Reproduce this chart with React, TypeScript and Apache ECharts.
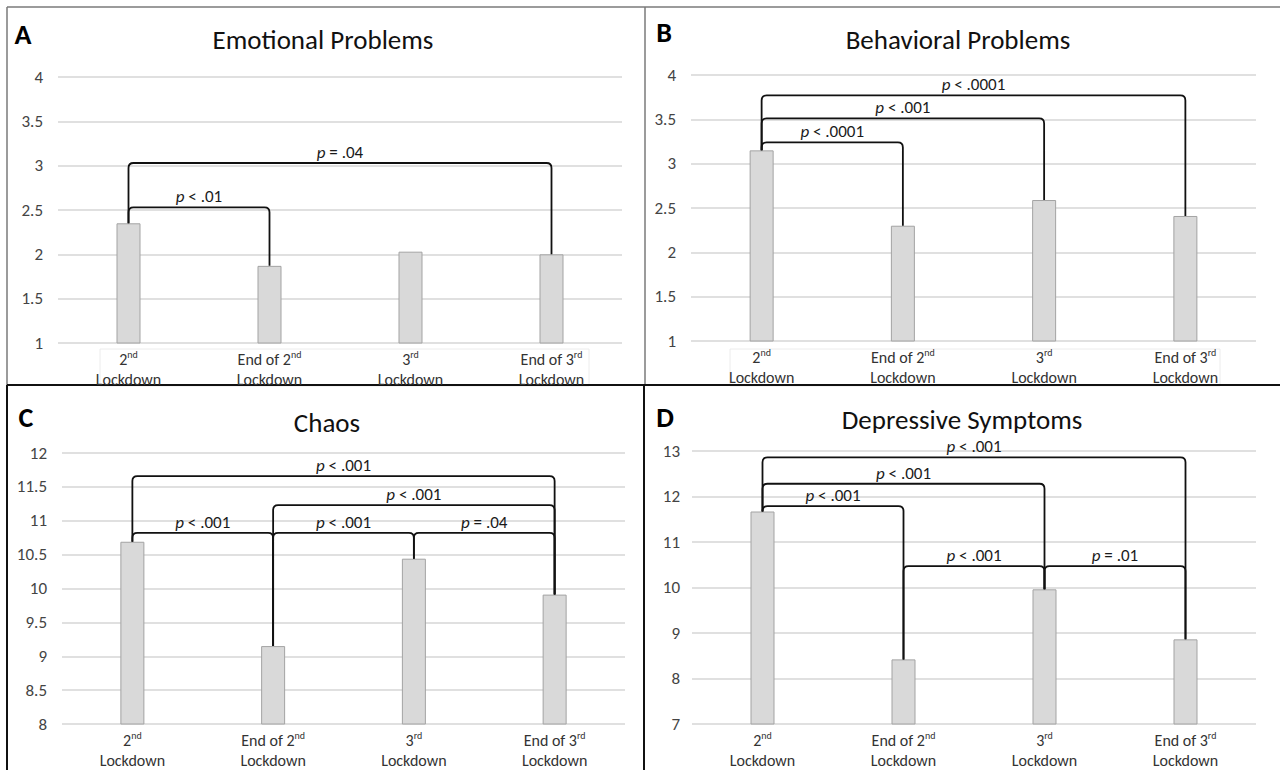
import React, { useEffect, useRef } from 'react';
import * as echarts from 'echarts';

const FONT = 'Carlito, Lato, "Noto Sans", sans-serif';

const categories = ['2nd Lockdown', 'End of 2nd Lockdown', '3rd Lockdown', 'End of 3rd Lockdown'];

const panelTitles = ['Emotional Problems', 'Behavioral Problems', 'Chaos', 'Depressive Symptoms'];
const panelLetters = ['A', 'B', 'C', 'D'];

const emotionalValues = [2.35, 1.87, 2.03, 2.0];
const behavioralValues = [3.15, 2.3, 2.59, 2.41];
const chaosValues = [10.69, 9.15, 10.44, 9.91];
const depressiveValues = [11.67, 8.42, 9.96, 8.86];

// y-axis ranges: [min, max, interval]
const emotionalAxis = [1, 4, 0.5];
const behavioralAxis = [1, 4, 0.5];
const chaosAxis = [8, 12, 0.5];
const depressiveAxis = [7, 13, 1];

// brackets: [fromIndex, toIndex, level, p text]
const emotionalBrackets: [number, number, number, string][] = [
  [0, 1, 2.53, '< .01'],
  [0, 3, 3.03, '= .04'],
];
const behavioralBrackets: [number, number, number, string][] = [
  [0, 1, 3.24, '< .0001'],
  [0, 2, 3.51, '< .001'],
  [0, 3, 3.77, '< .0001'],
];
const chaosBrackets: [number, number, number, string][] = [
  [0, 1, 10.82, '< .001'],
  [1, 2, 10.82, '< .001'],
  [2, 3, 10.82, '= .04'],
  [1, 3, 11.23, '< .001'],
  [0, 3, 11.66, '< .001'],
];
const depressiveBrackets: [number, number, number, string][] = [
  [0, 1, 11.79, '< .001'],
  [0, 2, 12.28, '< .001'],
  [0, 3, 12.86, '< .001'],
  [1, 2, 10.47, '< .001'],
  [2, 3, 10.47, '= .01'],
];

const panelValues = [emotionalValues, behavioralValues, chaosValues, depressiveValues];
const panelAxes = [emotionalAxis, behavioralAxis, chaosAxis, depressiveAxis];
const panelBrackets = [emotionalBrackets, behavioralBrackets, chaosBrackets, depressiveBrackets];

// layout (pixels)
const gridRects = [
  { left: 58, top: 77, width: 564, height: 266 },
  { left: 691, top: 75, width: 565, height: 266 },
  { left: 62, top: 453, width: 563, height: 280 },
  { left: 692, top: 451, width: 564, height: 280 },
];
const titlePos = [
  [323, 39],
  [958, 39],
  [327, 422],
  [962, 419],
];
const letterPos = [
  [23, 34],
  [664, 32],
  [26, 417],
  [665, 417],
];

function buildOption() {
  const grid: any[] = [];
  const xAxis: any[] = [];
  const yAxis: any[] = [];
  const series: any[] = [];
  const graphic: any[] = [];

  for (let p = 0; p < 4; p++) {
    const values = panelValues[p];
    const brackets = panelBrackets[p];
    const [mn, mx, iv] = panelAxes[p];
    grid.push({ ...gridRects[p], containLabel: false });
    xAxis.push({
      type: 'category',
      gridIndex: p,
      data: categories,
      axisLine: { show: false },
      axisTick: { show: false },
      axisLabel: {
        interval: 0,
        margin: 6,
        fontSize: 16,
        lineHeight: 20,
        color: '#333',
        fontFamily: FONT,
        formatter: (v: string) =>
          v.replace(/(\d)(nd|rd)/, '$1{s|$2}').replace(' Lockdown', '\nLockdown'),
        rich: {
          s: { fontSize: 10, lineHeight: 12, verticalAlign: 'top', color: '#333', fontFamily: FONT },
        },
      },
    });
    yAxis.push({
      type: 'value',
      gridIndex: p,
      min: mn,
      max: mx,
      interval: iv,
      axisLine: { show: false },
      axisTick: { show: false },
      axisLabel: { fontSize: 17, color: '#444', margin: p === 3 ? 12 : 15, fontFamily: FONT },
      splitLine: { lineStyle: { color: '#e0e0e0', width: 2 } },
    });
    series.push({
      type: 'bar',
      xAxisIndex: p,
      yAxisIndex: p,
      data: values,
      barWidth: 24,
      itemStyle: { color: '#d9d9d9', borderColor: '#a3a3a3', borderWidth: 1 },
      silent: true,
    });
    series.push({
      type: 'custom',
      xAxisIndex: p,
      yAxisIndex: p,
      clip: false,
      silent: true,
      z: 5,
      encode: { x: 0, y: 2 },
      data: brackets.map((b) => [b[0], b[1], b[2]]),
      renderItem: (params: any, api: any) => {
        const b = brackets[params.dataIndex];
        const i = b[0];
        const j = b[1];
        const level = b[2];
        const pA = api.coord([i, values[i]]);
        const pL = api.coord([i, level]);
        const pB = api.coord([j, values[j]]);
        const x1 = pA[0];
        const x2 = pB[0];
        const yl = pL[1];
        const r = 5;
        const d =
          `M${x1},${pA[1]} L${x1},${yl + r} Q${x1},${yl} ${x1 + r},${yl} ` +
          `L${x2 - r},${yl} Q${x2},${yl} ${x2},${yl + r} L${x2},${pB[1]}`;
        return {
          type: 'group',
          children: [
            {
              type: 'path',
              shape: { pathData: d },
              style: { stroke: '#111', lineWidth: 1.8, fill: null },
            },
            {
              type: 'text',
              x: (x1 + x2) / 2,
              y: yl - 2,
              style: {
                text: `{i|p} ${b[3]}`,
                rich: {
                  i: { fontStyle: 'italic', fontSize: 17, fontFamily: FONT, fill: '#1a1a1a' },
                },
                fontSize: 17,
                fontFamily: FONT,
                fill: '#1a1a1a',
                align: 'center',
                verticalAlign: 'bottom',
              },
            },
          ],
        };
      },
    });

    graphic.push({
      type: 'text',
      x: titlePos[p][0],
      y: titlePos[p][1],
      style: {
        text: panelTitles[p],
        fontSize: 27,
        fontFamily: FONT,
        fill: '#111',
        align: 'center',
        verticalAlign: 'middle',
        textAlign: 'center',
        textVerticalAlign: 'middle',
      },
    });
    graphic.push({
      type: 'text',
      x: letterPos[p][0],
      y: letterPos[p][1],
      style: {
        text: panelLetters[p],
        fontSize: 28,
        fontWeight: 900,
        fontFamily: FONT,
        fill: '#000',
        align: 'center',
        verticalAlign: 'middle',
        textAlign: 'center',
        textVerticalAlign: 'middle',
      },
    });
  }

  // faint label boxes (A, B)
  graphic.push({
    type: 'rect',
    shape: { x: 100, y: 349, width: 489, height: 37 },
    style: { fill: null, stroke: '#ececec', lineWidth: 1 },
  });
  graphic.push({
    type: 'rect',
    shape: { x: 730, y: 349, width: 490, height: 37 },
    style: { fill: null, stroke: '#ececec', lineWidth: 1 },
  });

  // panel borders
  const gray = { stroke: '#7a7a7a', lineWidth: 1.5 };
  const black = { stroke: '#111', lineWidth: 2 };
  graphic.push({ type: 'line', shape: { x1: 7, y1: 7, x2: 1280, y2: 7 }, style: gray });
  graphic.push({ type: 'line', shape: { x1: 7, y1: 7, x2: 7, y2: 385 }, style: gray });
  graphic.push({ type: 'line', shape: { x1: 645, y1: 7, x2: 645, y2: 385 }, style: gray });
  graphic.push({ type: 'line', shape: { x1: 7, y1: 385, x2: 1280, y2: 385 }, style: black });
  graphic.push({ type: 'line', shape: { x1: 7, y1: 385, x2: 7, y2: 770 }, style: black });
  graphic.push({ type: 'line', shape: { x1: 644, y1: 385, x2: 644, y2: 770 }, style: black });

  return {
    animation: false,
    backgroundColor: '#ffffff',
    grid,
    xAxis,
    yAxis,
    series,
    graphic,
  };
}

export default function App() {
  const ref = useRef<HTMLDivElement>(null);
  useEffect(() => {
    if (!ref.current) return;
    const chart = echarts.init(ref.current, undefined, { renderer: 'svg' });
    chart.setOption(buildOption() as any);
    return () => chart.dispose();
  }, []);
  return (
    <div
      ref={ref}
      style={{ position: 'fixed', left: 0, top: 0, width: 1280, height: 770, background: '#fff' }}
    />
  );
}
